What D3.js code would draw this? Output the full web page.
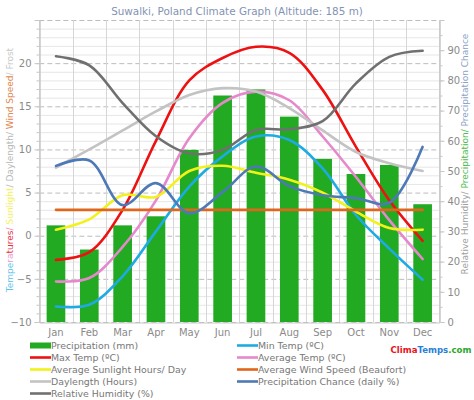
<!DOCTYPE html>
<html><head><meta charset="utf-8">
<script src="https://cdn.jsdelivr.net/npm/d3@7"></script>
<style>body{margin:0;background:#fff}svg{display:block}text{font-family:"DejaVu Sans",sans-serif}</style>
</head><body><div id="chart"></div>
<script>
const months = ["Jan","Feb","Mar","Apr","May","Jun","Jul","Aug","Sep","Oct","Nov","Dec"];
const precipitation = [32, 24, 32, 35, 57, 75, 77, 68, 54, 49, 52, 39];
const maxTemp = [-2.8, -1.9, 3.0, 11.0, 18.0, 20.6, 21.9, 21.2, 16.9, 10.3, 4.1, -0.6];
const minTemp = [-8.2, -8.0, -4.7, 0.5, 5.7, 9.2, 11.5, 11.1, 7.8, 2.4, -1.5, -5.1];
const avgTemp = [-5.3, -4.9, -1.3, 4.1, 11.3, 15.4, 16.7, 15.7, 11.5, 6.8, 1.8, -2.7];
const sunlight = [0.7, 1.9, 4.7, 4.5, 7.5, 8.1, 7.3, 6.5, 5.0, 2.8, 0.9, 0.7];
const windSpeed = [3, 3, 3, 3, 3, 3, 3, 3, 3, 3, 3, 3];
const daylength = [7.9, 10.0, 12.2, 14.4, 16.3, 17.1, 16.7, 14.8, 12.2, 9.7, 8.4, 7.5];
const precipChance = [51.7, 53.5, 38.7, 46, 36, 43, 51.5, 45, 42, 41, 39.5, 58];
const humidity = [88, 85, 72.5, 61.5, 55.8, 57, 63.6, 63.8, 66.5, 79, 87.8, 89.8];
const leftTicks = [-10, -5, 0, 5, 10, 15, 20];
const rightTicks = [0, 10, 20, 30, 40, 50, 60, 70, 80, 90];

const W = 474, H = 400;
const svg = d3.select("#chart").append("svg").attr("width", W).attr("height", H);
const x = d3.scaleBand().domain(months).range([39.3, 439.3]);
const yL = d3.scaleLinear().domain([-10, 25]).range([322, 20]);
const yR = d3.scaleLinear().domain([0, 100]).range([322, 20]);

// title
svg.append("text").attr("x", 237).attr("y", 15).attr("text-anchor", "middle")
  .attr("font-size", 10.4).attr("fill", "#8393b3").text("Suwalki, Poland Climate Graph (Altitude: 185 m)");

// grid
const g = svg.append("g");
g.selectAll(".hmin").data(d3.range(-10, 26)).join("line")
  .attr("x1", 39.3).attr("x2", 439.3).attr("y1", d => yL(d) + 0.5).attr("y2", d => yL(d) + 0.5)
  .attr("stroke", d => d % 5 === 0 ? "#bcbcbc" : "#e6e6e6")
  .attr("stroke-dasharray", d => d % 5 === 0 ? "5,3" : null);
g.selectAll(".v").data(d3.range(0, 13)).join("line")
  .attr("x1", i => Math.round(39.3 + i * x.bandwidth()) + 0.5).attr("x2", i => Math.round(39.3 + i * x.bandwidth()) + 0.5)
  .attr("y1", 20).attr("y2", 322).attr("stroke", "#d6d6d6");

// axes
const axL = svg.append("g").attr("transform", "translate(39.5,0)")
  .call(d3.axisLeft(yL).tickValues(leftTicks).tickSize(5).tickPadding(3));
const axL2 = svg.append("g").attr("transform", "translate(39.5,0)")
  .call(d3.axisLeft(yL).tickValues(d3.range(-10, 26)).tickSize(3).tickFormat(""));
const axR = svg.append("g").attr("transform", "translate(439.5,0)")
  .call(d3.axisRight(yR).tickValues(rightTicks).tickSize(5).tickPadding(3));
const axR2 = svg.append("g").attr("transform", "translate(439.5,0)")
  .call(d3.axisRight(yR).tickValues(d3.range(0, 101, 5)).tickSize(3).tickFormat(""));
const axB = svg.append("g").attr("transform", "translate(0,322.5)")
  .call(d3.axisBottom(x).tickSize(0).tickPadding(6));
[axL, axL2, axR, axR2, axB].forEach(a => {
  a.selectAll("path").attr("stroke", "#c8c8c8");
  a.selectAll("line").attr("stroke", "#c8c8c8");
  a.selectAll("text").attr("fill", "#8a8a8a").attr("font-size", 10).attr("font-family", "DejaVu Sans");
});

// bars
svg.append("g").selectAll("rect").data(precipitation).join("rect")
  .attr("x", (d, i) => x(months[i]) + x.bandwidth() * 0.22)
  .attr("width", x.bandwidth() * 0.56)
  .attr("y", d => yR(d)).attr("height", d => yR(0) - yR(d))
  .attr("fill", "#22aa22");

const cx = i => x(months[i]) + x.bandwidth() / 2;
function drawLine(data, scale, color) {
  const line = d3.line().x((d, i) => cx(i)).y(d => scale(d)).curve(d3.curveCatmullRom.alpha(0.5));
  svg.append("path").datum(data).attr("d", line).attr("fill", "none")
    .attr("stroke", color).attr("stroke-width", 2.6).attr("stroke-linecap", "round");
}
drawLine(minTemp, yL, "#1eaae2");
drawLine(avgTemp, yL, "#e589cc");
drawLine(maxTemp, yL, "#ee1111");
drawLine(sunlight, yL, "#f2f21a");
drawLine(windSpeed, yL, "#e0661c");
drawLine(daylength, yL, "#c3c3c3");
drawLine(precipChance, yR, "#4d79b6");
drawLine(humidity, yR, "#707070");

// axis titles
const lt = svg.append("text").attr("transform", "translate(13,170) rotate(-90)")
  .attr("text-anchor", "middle").attr("font-size", 9);
[["Tempe", "#5fc4ea"], ["ra", "#e99ad2"], ["tures", "#e8333f"], ["/ ", "#f08a9a"], ["Sunlight", "#f2f25a"], ["/ Daylength/ ", "#b8b8b8"], ["Wind Speed", "#e0864c"], ["/ Frost", "#c8c8c8"]]
  .forEach(([t, c]) => lt.append("tspan").attr("fill", c).text(t));
const rt = svg.append("text").attr("transform", "translate(468,154) rotate(-90)")
  .attr("text-anchor", "middle").attr("font-size", 9);
[["Relative Humidity/ ", "#a0a0a0"], ["Precipitation/ ", "#4cbb4c"], ["Precipitation Chance", "#8aa2c8"]]
  .forEach(([t, c]) => rt.append("tspan").attr("fill", c).text(t));

// legend
const legendItems = [
  ["Precipitation (mm)", "#22aa22", 0, 0, true],
  ["Max Temp (ºC)", "#ee1111", 0, 1],
  ["Average Sunlight Hours/ Day", "#f2f21a", 0, 2],
  ["Daylength (Hours)", "#c3c3c3", 0, 3],
  ["Relative Humidity (%)", "#707070", 0, 4],
  ["Min Temp (ºC)", "#1eaae2", 1, 0],
  ["Average Temp (ºC)", "#e589cc", 1, 1],
  ["Average Wind Speed (Beaufort)", "#e0661c", 1, 2],
  ["Precipitation Chance (daily %)", "#4d79b6", 1, 3]
];
const lg = svg.append("g");
legendItems.forEach(([label, color, col, row, isBar]) => {
  const x0 = col === 0 ? 30 : 237, y0 = 345.5 + row * 12;
  if (isBar) lg.append("rect").attr("x", x0).attr("y", y0 - 3).attr("width", 21).attr("height", 6).attr("fill", color);
  else lg.append("line").attr("x1", x0).attr("x2", x0 + 21).attr("y1", y0).attr("y2", y0).attr("stroke", color).attr("stroke-width", 2.6);
  lg.append("text").attr("x", x0 + 21).attr("y", y0 + 3.5).attr("font-size", 9.4).attr("fill", "#777").text(label);
});
const logo = svg.append("text").attr("x", 431).attr("y", 353).attr("text-anchor", "middle")
  .attr("font-size", 8.6).attr("font-weight", "bold");
[["Clima", "#e8121a"], ["Temps", "#2b7fd6"], [".com", "#2aa52a"]].forEach(([t, c]) => logo.append("tspan").attr("fill", c).text(t));
</script></body></html>
